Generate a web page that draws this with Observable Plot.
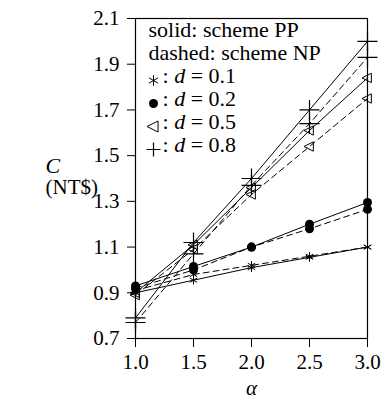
<!DOCTYPE html>
<html>
<head>
<meta charset="utf-8">
<script src="https://cdn.jsdelivr.net/npm/d3@7"></script>
<script src="https://cdn.jsdelivr.net/npm/@observablehq/plot@0.6"></script>
<style>
  html, body { margin: 0; padding: 0; background: #fff; font-family: serif; }
</style>
</head>
<body>
<div id="chart"></div>
<script>
// ---- data ----
const alpha = [1.0, 1.5, 2.0, 2.5, 3.0];
const ppD01 = [0.90, 0.955, 1.01, 1.055, 1.10];
const npD01 = [0.91, 0.98, 1.02, 1.06, 1.10];
const ppD02 = [0.93, 1.015, 1.10, 1.20, 1.295];
const npD02 = [0.92, 1.00, 1.10, 1.18, 1.265];
const ppD05 = [0.90, 1.11, 1.36, 1.61, 1.84];
const npD05 = [0.89, 1.09, 1.33, 1.54, 1.75];
const ppD08 = [0.79, 1.12, 1.40, 1.70, 2.00];
const npD08 = [0.77, 1.07, 1.37, 1.64, 1.93];
const dValues = [0.1, 0.2, 0.5, 0.8];
const xTicks = [1.0, 1.5, 2.0, 2.5, 3.0];
const yTicks = [0.7, 0.9, 1.1, 1.3, 1.5, 1.7, 1.9, 2.1];
const legendLines = ["solid: scheme PP", "dashed: scheme NP", ": d = 0.1", ": d = 0.2", ": d = 0.5", ": d = 0.8"];

// ---- build rows ----
const series = [
  {d: 0.1, scheme: "PP", v: ppD01}, {d: 0.1, scheme: "NP", v: npD01},
  {d: 0.2, scheme: "PP", v: ppD02}, {d: 0.2, scheme: "NP", v: npD02},
  {d: 0.5, scheme: "PP", v: ppD05}, {d: 0.5, scheme: "NP", v: npD05},
  {d: 0.8, scheme: "PP", v: ppD08}, {d: 0.8, scheme: "NP", v: npD08}
];
const rows = series.flatMap(s => s.v.map((c, i) => ({alpha: alpha[i], C: c, d: s.d, scheme: s.scheme, key: s.d + s.scheme})));
const pp = rows.filter(r => r.scheme === "PP");
const np = rows.filter(r => r.scheme === "NP");

const leftTri = {
  draw(ctx, size) {
    const r = Math.sqrt(size / Math.PI);
    ctx.moveTo(-r, 0);
    ctx.lineTo(r * 0.7, -r * 0.85);
    ctx.lineTo(r * 0.7, r * 0.85);
    ctx.closePath();
  }
};

const ser = "serif";
const symStyle = {
  0.1: {symbol: "asterisk", r: 4, stroke: "black", fill: "none", strokeWidth: 1},
  0.2: {symbol: "circle", r: 4.5, fill: "black", stroke: "none"},
  0.5: {symbol: leftTri, r: 5.5, stroke: "black", fill: "none", strokeWidth: 1},
  0.8: {symbol: "plus", r: 6.5, stroke: "black", fill: "none", strokeWidth: 1.2}
};
const legendSymStyle = {
  0.1: {symbol: "asterisk", r: 5, stroke: "black", fill: "none", strokeWidth: 1},
  0.2: {symbol: "circle", r: 4.5, fill: "black", stroke: "none"},
  0.5: {symbol: leftTri, r: 6.5, stroke: "black", fill: "none", strokeWidth: 1},
  0.8: {symbol: "plus", r: 4.6, stroke: "black", fill: "none", strokeWidth: 1.2}
};
const markerMarks = dValues.map(d =>
  Plot.dot(rows.filter(r => r.d === d), {x: "alpha", y: "C", ...symStyle[d]}));
// legend symbols, placed relative to the frame's top-left corner
const legendMarkerMarks = dValues.map((d, i) =>
  Plot.dot([d], {frameAnchor: "top-left", dx: 18, dy: 62 + i * 23, ...legendSymStyle[d]}));

const chart = Plot.plot({
  width: 381,
  height: 403,
  marginLeft: 135,
  marginRight: 14,
  marginTop: 18,
  marginBottom: 65,
  style: {fontFamily: ser},
  x: {domain: [1, 3]},
  y: {domain: [0.7, 2.1]},
  marks: [
    Plot.frame({stroke: "black", strokeWidth: 1.2}),
    Plot.axisX({ticks: xTicks, tickFormat: d => d.toFixed(1), tickSize: 9, tickPadding: 7, fontSize: 21, fontFamily: ser, label: null}),
    Plot.axisY({ticks: yTicks, tickFormat: d => d.toFixed(1), tickSize: 8, tickPadding: 8, fontSize: 21, fontFamily: ser, label: null}),
    Plot.line(pp, {x: "alpha", y: "C", z: "key", stroke: "black", strokeWidth: 1}),
    Plot.line(np, {x: "alpha", y: "C", z: "key", stroke: "black", strokeWidth: 1, strokeDasharray: "6,4"}),
    ...markerMarks,
    ...legendMarkerMarks,
    Plot.text(legendLines, {text: d => d, frameAnchor: "top-left", lineAnchor: "top", fontSize: 22, fontFamily: ser, textAnchor: "start"}),
    Plot.text(["C"], {frameAnchor: "left", dx: -90, dy: -13, fontSize: 22, fontFamily: ser, fontStyle: "italic"}),
    Plot.text(["(NT$)"], {frameAnchor: "left", dx: -90, dy: 9, fontSize: 21, fontFamily: ser}),
    Plot.text(["\u03B1"], {frameAnchor: "bottom", dy: 56, fontSize: 21, fontFamily: ser, fontStyle: "italic"})
  ]
});

const svg = d3.select(chart);
const lineH = 23;
svg.selectAll("text").each(function() {
  const t = d3.select(this);
  const s = t.text();
  const idx = legendLines.indexOf(s);
  if (idx < 0) return;
  t.attr("transform", `translate(${idx < 2 ? 148 : 162}, ${21 + idx * lineH})`);
  if (s.includes(" d = ")) {
    const [a, b] = s.split(" d ");
    t.text(null);
    t.append("tspan").text(a + " ");
    t.append("tspan").attr("font-style", "italic").text("d");
    t.append("tspan").text(" " + b);
  }
});
document.getElementById("chart").appendChild(chart);
</script>
</body>
</html>
